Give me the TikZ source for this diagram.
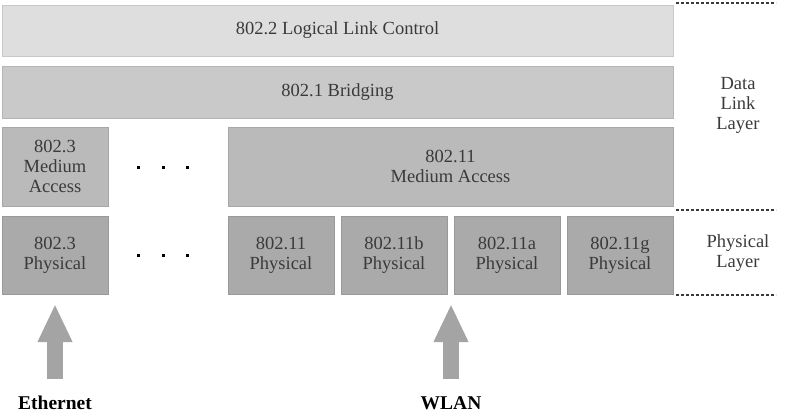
\documentclass[tikz,border=0pt]{standalone}
\usepackage{fontspec}
\setmainfont{Liberation Serif}
\usetikzlibrary{arrows.meta}
\definecolor{txt}{HTML}{3A3A3A}
\definecolor{llcfill}{HTML}{DEDEDE}
\definecolor{brfill}{HTML}{C9C9C9}
\definecolor{mafill}{HTML}{BABABA}
\definecolor{phfill}{HTML}{AAAAAA}
\definecolor{arrfill}{HTML}{A4A4A4}
\tikzset{
  box/.style={draw=#1!90!black, line width=0.8pt, fill=#1, inner sep=0pt, outer sep=0pt,
    align=center, text=txt, font=\fontsize{18.5}{20}\selectfont},
  lbl/.style={align=center, text=txt, font=\fontsize{18.5}{20}\selectfont},
  netlbl/.style={text=black, font=\fontsize{19.5}{21}\selectfont\bfseries},
  sep/.style={draw=txt, line width=1.3pt, dash pattern=on 3pt off 2pt},
  dotmark/.style={fill=black, minimum size=3pt, inner sep=0pt},
  bigarrow/.style={draw=arrfill, line width=16pt, line cap=butt,
    -{Triangle[length=38pt,width=32pt]}},
}
\begin{document}
\begin{tikzpicture}[x=1pt,y=-1pt]
\useasboundingbox (0,0) rectangle (789,417);
% rows
\node[box=llcfill, minimum width=671pt, minimum height=51pt] (llc) at (337.5,30.5) {802.2 Logical Link Control};
\node[box=brfill, minimum width=671pt, minimum height=52pt] (br) at (337.5,92) {802.1 Bridging};
\node[box=mafill, minimum width=106pt, minimum height=79pt] (ma3) at (55,166.5) {802.3\\Medium\\Access};
\node[box=mafill, minimum width=445pt, minimum height=79pt] (ma11) at (450.5,166.5) {802.11\\Medium Access};
\node[box=phfill, minimum width=106pt, minimum height=78pt] (ph3) at (55,255) {802.3\\Physical};
\node[box=phfill, minimum width=106pt, minimum height=78pt] (ph11) at (281,255) {802.11\\Physical};
\node[box=phfill, minimum width=106pt, minimum height=78pt] (ph11b) at (394,255) {802.11b\\Physical};
\node[box=phfill, minimum width=106pt, minimum height=78pt] (ph11a) at (507,255) {802.11a\\Physical};
\node[box=phfill, minimum width=106pt, minimum height=78pt] (ph11g) at (620,255) {802.11g\\Physical};
% dots
\node[dotmark] (d1) at (138,167) {};
\node[dotmark] (d2) at (163,167) {};
\node[dotmark] (d3) at (187,167) {};
\node[dotmark] (d4) at (138,255) {};
\node[dotmark] (d5) at (163,255) {};
\node[dotmark] (d6) at (187,255) {};
% layer separators
\coordinate (s1a) at (676,3);   \coordinate (s1b) at (776,3);
\coordinate (s2a) at (676,210); \coordinate (s2b) at (776,210);
\coordinate (s3a) at (676,295); \coordinate (s3b) at (776,295);
\draw[sep] (s1a) -- (s1b);
\draw[sep] (s2a) -- (s2b);
\draw[sep] (s3a) -- (s3b);
\node[lbl] (dll) at (738,105) {Data\\Link\\Layer};
\node[lbl] (pl) at (738,253) {Physical\\Layer};
% arrows
\coordinate (ethbot) at (55,379);  \coordinate (ethtop) at (55,304);
\coordinate (wlbot) at (451,379);  \coordinate (wltop) at (451,304);
\draw[bigarrow] (ethbot) -- (ethtop);
\draw[bigarrow] (wlbot) -- (wltop);
\node[netlbl] (eth) at (55,403) {Ethernet};
\node[netlbl] (wlan) at (451,403) {WLAN};
\end{tikzpicture}
\end{document}
